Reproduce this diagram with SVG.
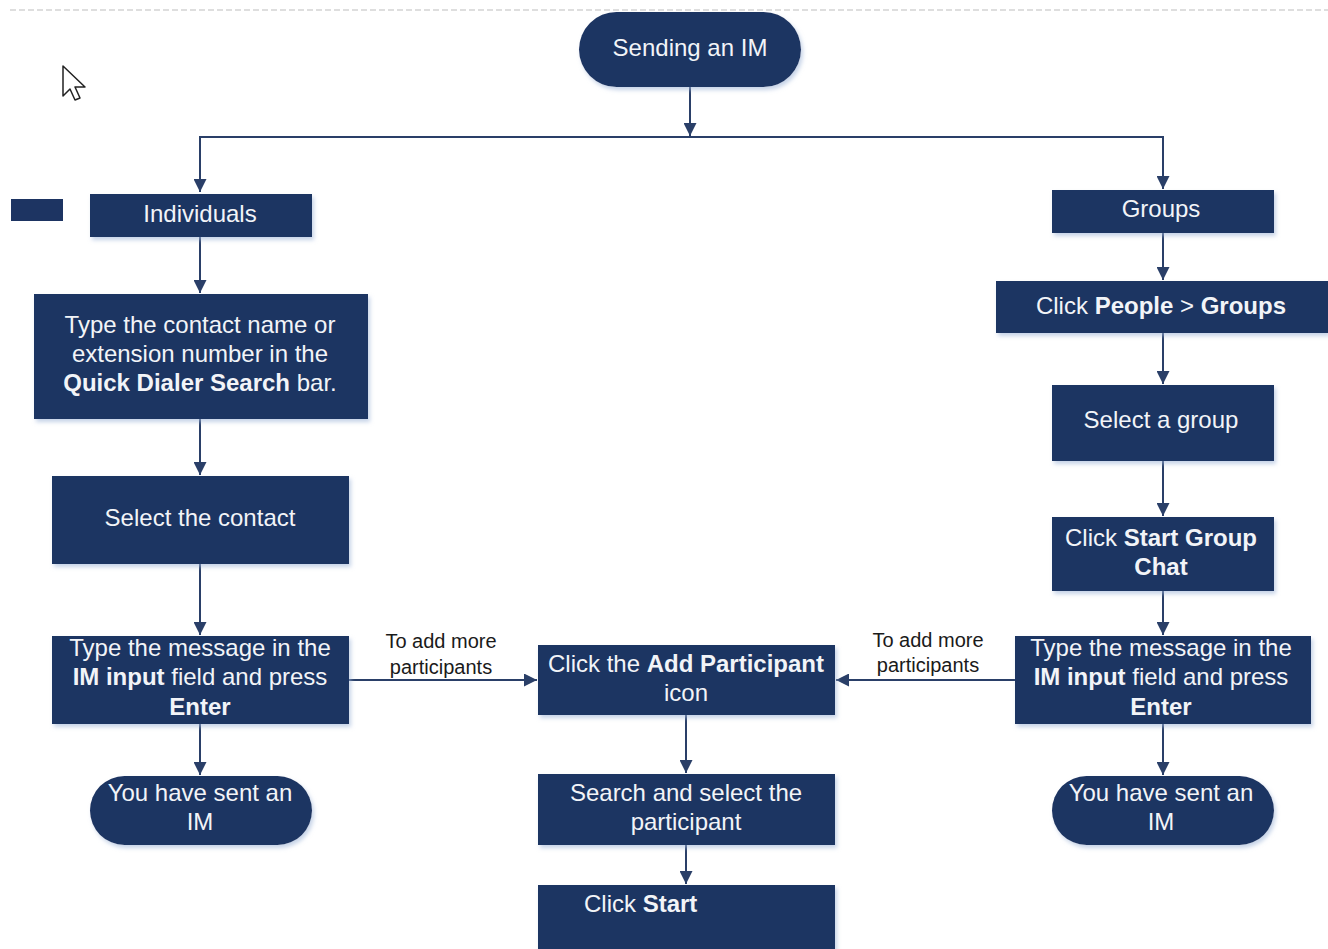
<svg xmlns="http://www.w3.org/2000/svg" width="1328" height="949" viewBox="0 0 1328 949">
<defs>
<style>
.n{fill:#1d3462;filter:url(#sh)}
.t{font-family:"Liberation Sans",Arial,sans-serif;font-size:24px;fill:#f2f4f8;text-anchor:middle}
.s{text-anchor:start}
.b{font-weight:bold}
.l{font-family:"Liberation Sans",Arial,sans-serif;font-size:20px;fill:#1a1a1a;text-anchor:middle}
.c{fill:none;stroke:#2a3f68;stroke-width:2}
</style>
<filter id="sh" x="-10%" y="-20%" width="125%" height="150%">
<feDropShadow dx="2" dy="3" stdDeviation="2" flood-color="#9fb6d8" flood-opacity="0.6"/>
</filter>
<marker id="ah" viewBox="0 0 10 10" refX="10" refY="5" markerWidth="14" markerHeight="13" markerUnits="userSpaceOnUse" orient="auto">
<path d="M0,0 L10,5 L0,10 z" fill="#2a3f68"/>
</marker>
</defs>
<rect width="1328" height="949" fill="#ffffff"/>
<line x1="10" y1="10" x2="1328" y2="10" stroke="#d4d4d4" stroke-width="1.5" stroke-dasharray="6,3"/>
<path d="M63,66 L63,96 L70,89 L75,100 L80,98 L75,87 L85,87 Z" fill="#ffffff" stroke="#222" stroke-width="1.5" stroke-linejoin="round"/>
<rect x="11" y="199" width="52" height="22" fill="#1d3462"/>

<g id="connectors">
<path class="c" d="M690,87 V136" marker-end="url(#ah)"/>
<path class="c" d="M200,192 V137 H1163 V189"/>
<path class="c" d="M200,160 V192" marker-end="url(#ah)"/>
<path class="c" d="M1163,160 V189" marker-end="url(#ah)"/>
<path class="c" d="M200,237 V293" marker-end="url(#ah)"/>
<path class="c" d="M200,419 V475" marker-end="url(#ah)"/>
<path class="c" d="M200,564 V635" marker-end="url(#ah)"/>
<path class="c" d="M200,724 V775" marker-end="url(#ah)"/>
<path class="c" d="M349,680 H537" marker-end="url(#ah)"/>
<path class="c" d="M1015,680 H836" marker-end="url(#ah)"/>
<path class="c" d="M686,715 V773" marker-end="url(#ah)"/>
<path class="c" d="M686,845 V884" marker-end="url(#ah)"/>
<path class="c" d="M1163,233 V280" marker-end="url(#ah)"/>
<path class="c" d="M1163,333 V384" marker-end="url(#ah)"/>
<path class="c" d="M1163,461 V516" marker-end="url(#ah)"/>
<path class="c" d="M1163,591 V635" marker-end="url(#ah)"/>
<path class="c" d="M1163,724 V775" marker-end="url(#ah)"/>
<text class="l" x="441" y="648">To add more</text>
<text class="l" x="441" y="674">participants</text>
<text class="l" x="928" y="647">To add more</text>
<text class="l" x="928" y="672">participants</text>
</g>

<g id="start">
<rect class="n" x="579" y="12" width="222" height="75" rx="37.5"/>
<text class="t" x="690" y="56">Sending an IM</text>
</g>
<g id="individuals">
<rect class="n" x="90" y="194" width="222" height="43"/>
<text class="t" x="200" y="222">Individuals</text>
</g>
<g id="type-contact">
<rect class="n" x="34" y="294" width="334" height="125"/>
<text class="t" x="200" y="333">Type the contact name or</text>
<text class="t" x="200" y="362">extension number in the</text>
<text class="t" x="200" y="391"><tspan class="b">Quick Dialer Search</tspan> bar.</text>
</g>
<g id="select-contact">
<rect class="n" x="52" y="476" width="297" height="88"/>
<text class="t" x="200" y="526">Select the contact</text>
</g>
<g id="type-message-left">
<rect class="n" x="52" y="636" width="297" height="88"/>
<text class="t" x="200" y="656">Type the message in the</text>
<text class="t" x="200" y="685"><tspan class="b">IM input</tspan> field and press</text>
<text class="t b" x="200" y="715">Enter</text>
</g>
<g id="sent-left">
<rect class="n" x="90" y="776" width="222" height="69" rx="34.5"/>
<text class="t" x="200" y="801">You have sent an</text>
<text class="t" x="200" y="830">IM</text>
</g>
<g id="add-participant">
<rect class="n" x="538" y="645" width="297" height="70"/>
<text class="t" x="686" y="672">Click the <tspan class="b">Add Participant</tspan></text>
<text class="t" x="686" y="701">icon</text>
</g>
<g id="search-select">
<rect class="n" x="538" y="774" width="297" height="71"/>
<text class="t" x="686" y="801">Search and select the</text>
<text class="t" x="686" y="830">participant</text>
</g>
<g id="click-start">
<rect class="n" x="538" y="885" width="297" height="70"/>
<text class="t s" x="584" y="912">Click <tspan class="b">Start</tspan></text>
</g>
<g id="groups">
<rect class="n" x="1052" y="190" width="222" height="43"/>
<text class="t" x="1161" y="217">Groups</text>
</g>
<g id="click-people">
<rect class="n" x="996" y="281" width="332" height="52"/>
<text class="t" x="1161" y="314">Click <tspan class="b">People</tspan> &gt; <tspan class="b">Groups</tspan></text>
</g>
<g id="select-group">
<rect class="n" x="1052" y="385" width="222" height="76"/>
<text class="t" x="1161" y="428">Select a group</text>
</g>
<g id="start-group-chat">
<rect class="n" x="1052" y="517" width="222" height="74"/>
<text class="t" x="1161" y="546">Click <tspan class="b">Start Group</tspan></text>
<text class="t b" x="1161" y="575">Chat</text>
</g>
<g id="type-message-right">
<rect class="n" x="1015" y="636" width="296" height="88"/>
<text class="t" x="1161" y="656">Type the message in the</text>
<text class="t" x="1161" y="685"><tspan class="b">IM input</tspan> field and press</text>
<text class="t b" x="1161" y="715">Enter</text>
</g>
<g id="sent-right">
<rect class="n" x="1052" y="776" width="222" height="69" rx="34.5"/>
<text class="t" x="1161" y="801">You have sent an</text>
<text class="t" x="1161" y="830">IM</text>
</g>
</svg>
